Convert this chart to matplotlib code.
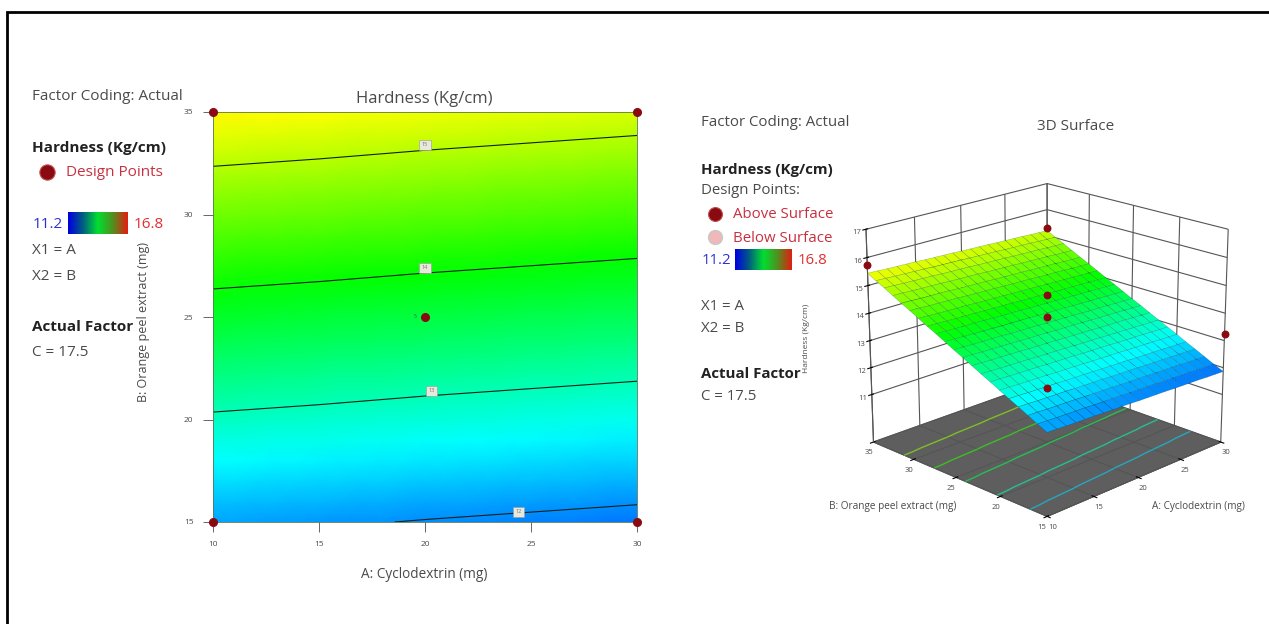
import numpy as np
import matplotlib
matplotlib.use("Agg")
import matplotlib.pyplot as plt
from matplotlib.colors import LinearSegmentedColormap, Normalize

plt.rcParams['font.family'] = ['Open Sans', 'DejaVu Sans']

# data
cyclodextrin = [10, 11, 12, 13, 14, 15, 16, 17, 18, 19, 20, 21, 22, 23, 24, 25, 26, 27, 28, 29, 30]
orange_peel = [15, 16, 17, 18, 19, 20, 21, 22, 23, 24, 25, 26, 27, 28, 29, 30, 31, 32, 33, 34, 35]
hardness = [
    [12.11,12.10,12.08,12.07,12.06,12.05,12.03,12.02,12.01,12.00,11.98,11.97,11.96,11.95,11.93,11.92,11.91,11.90,11.88,11.87,11.86],
    [12.27,12.26,12.24,12.23,12.22,12.21,12.19,12.18,12.17,12.16,12.14,12.13,12.12,12.11,12.09,12.08,12.07,12.06,12.04,12.03,12.02],
    [12.44,12.43,12.41,12.40,12.39,12.38,12.36,12.35,12.34,12.33,12.31,12.30,12.29,12.28,12.26,12.25,12.24,12.23,12.21,12.20,12.19],
    [12.61,12.60,12.58,12.57,12.56,12.55,12.53,12.52,12.51,12.50,12.48,12.47,12.46,12.45,12.43,12.42,12.41,12.40,12.38,12.37,12.36],
    [12.77,12.76,12.74,12.73,12.72,12.71,12.69,12.68,12.67,12.66,12.64,12.63,12.62,12.61,12.59,12.58,12.57,12.56,12.54,12.53,12.52],
    [12.94,12.93,12.91,12.90,12.89,12.88,12.86,12.85,12.84,12.83,12.81,12.80,12.79,12.78,12.76,12.75,12.74,12.73,12.71,12.70,12.69],
    [13.11,13.10,13.08,13.07,13.06,13.05,13.03,13.02,13.01,13.00,12.98,12.97,12.96,12.95,12.93,12.92,12.91,12.90,12.88,12.87,12.86],
    [13.27,13.26,13.24,13.23,13.22,13.21,13.19,13.18,13.17,13.16,13.14,13.13,13.12,13.11,13.09,13.08,13.07,13.06,13.04,13.03,13.02],
    [13.44,13.43,13.41,13.40,13.39,13.38,13.36,13.35,13.34,13.33,13.31,13.30,13.29,13.28,13.26,13.25,13.24,13.23,13.21,13.20,13.19],
    [13.61,13.60,13.58,13.57,13.56,13.55,13.53,13.52,13.51,13.50,13.48,13.47,13.46,13.45,13.43,13.42,13.41,13.40,13.38,13.37,13.36],
    [13.77,13.76,13.74,13.73,13.72,13.71,13.69,13.68,13.67,13.66,13.64,13.63,13.62,13.61,13.59,13.58,13.57,13.56,13.54,13.53,13.52],
    [13.94,13.93,13.91,13.90,13.89,13.88,13.86,13.85,13.84,13.83,13.81,13.80,13.79,13.78,13.76,13.75,13.74,13.73,13.71,13.70,13.69],
    [14.11,14.10,14.08,14.07,14.06,14.05,14.03,14.02,14.01,14.00,13.98,13.97,13.96,13.95,13.93,13.92,13.91,13.90,13.88,13.87,13.86],
    [14.27,14.26,14.24,14.23,14.22,14.21,14.19,14.18,14.17,14.16,14.14,14.13,14.12,14.11,14.09,14.08,14.07,14.06,14.04,14.03,14.02],
    [14.44,14.43,14.41,14.40,14.39,14.38,14.36,14.35,14.34,14.33,14.31,14.30,14.29,14.28,14.26,14.25,14.24,14.23,14.21,14.20,14.19],
    [14.61,14.60,14.58,14.57,14.56,14.55,14.53,14.52,14.51,14.50,14.48,14.47,14.46,14.45,14.43,14.42,14.41,14.40,14.38,14.37,14.36],
    [14.77,14.76,14.74,14.73,14.72,14.71,14.69,14.68,14.67,14.66,14.64,14.63,14.62,14.61,14.59,14.58,14.57,14.56,14.54,14.53,14.52],
    [14.94,14.93,14.91,14.90,14.89,14.88,14.86,14.85,14.84,14.83,14.81,14.80,14.79,14.78,14.76,14.75,14.74,14.73,14.71,14.70,14.69],
    [15.11,15.10,15.08,15.07,15.06,15.05,15.03,15.02,15.01,15.00,14.98,14.97,14.96,14.95,14.93,14.92,14.91,14.90,14.88,14.87,14.86],
    [15.27,15.26,15.24,15.23,15.22,15.21,15.19,15.18,15.17,15.16,15.14,15.13,15.12,15.11,15.09,15.08,15.07,15.06,15.04,15.03,15.02],
    [15.44,15.43,15.41,15.40,15.39,15.38,15.36,15.35,15.34,15.33,15.31,15.30,15.29,15.28,15.26,15.25,15.24,15.23,15.21,15.20,15.19],
]
contour_levels = [12, 13, 14, 15]
floor_levels = [12.4, 13.0, 13.6, 14.2, 14.8]
label_a = [24.4, 20.3, 20, 20]
label_b = [15.5, 21.4, 27.4, 33.4]
label_text = ["12", "13", "14", "15"]
design_a = [10, 30, 10, 30, 20]
design_b = [15, 15, 35, 35, 25]
points3d_a = [10, 30, 30, 10, 20, 20]
points3d_b = [35, 35, 15, 15, 25, 25]
points3d_z = [15.75, 15.3, 13.25, 13.6, 13.85, 14.65]
x_ticks = [10, 15, 20, 25, 30]
y_ticks = [15, 20, 25, 30, 35]
z_ticks = [11, 12, 13, 14, 15, 16, 17]

W, H = 1269, 624
Z = np.array(hardness)
A, B = np.meshgrid(cyclodextrin, orange_peel)
cmap = LinearSegmentedColormap.from_list("de", ["#0000ff", "#00ffff", "#00ff00", "#ffff00", "#ff0000"])
norm = Normalize(11.2, 16.8)
bar_cmap = LinearSegmentedColormap.from_list("bar", ["#0000e0", "#006080", "#00e030", "#509020", "#e02010"])
grey = "#4a4a4a"
dark_red = "#8a0a12"

fig = plt.figure(figsize=(W / 100, H / 100), dpi=100, facecolor="white")

# contour panel
ax = fig.add_axes([213 / W, 1 - 522 / H, (637 - 213) / W, (522 - 112) / H])
ax.pcolormesh(A, B, Z, cmap=cmap, norm=norm, shading="gouraud")
ax.contour(A[::5, ::5], B[::5, ::5], Z[::5, ::5], levels=contour_levels, colors="#102018", linewidths=0.8)
for a, b, t in zip(label_a, label_b, label_text):
    ax.text(a, b, t, fontsize=4, color="#777777", ha="center", va="center",
            bbox=dict(boxstyle="square,pad=0.45", fc="#e8e8dc", ec="#999999", lw=0.4))
ax.plot(design_a, design_b, "o", color=dark_red, ms=5.5, clip_on=False, zorder=5)
ax.text(19.55, 25, "5", fontsize=3.5, color=grey, ha="center", va="center")
ax.set_xlim(10, 30)
ax.set_ylim(15, 35)
ax.set_xticks(x_ticks)
ax.set_yticks(y_ticks)
ax.tick_params(labelsize=6, labelcolor=grey, color="#666666", length=7, width=0.7, pad=7)
for s in ax.spines.values():
    s.set_color("#557755")
    s.set_linewidth(0.6)

# surface panel
ax3 = fig.add_axes([739 / W, 1 - 646 / H, 600 / W, 600 / H], projection="3d")
ax3.patch.set_alpha(0)
ax3.computed_zorder = False
ax3.view_init(elev=19.5, azim=-135)
ax3.set_proj_type("persp", focal_length=0.55)
ax3.set_box_aspect((1, 1, 0.9), zoom=0.68)
floor = 9.2
ax3.set_xlim(10, 30)
ax3.set_ylim(15, 35)
ax3.set_zlim(floor, 17)
ax3.contour(A, B, Z, levels=floor_levels, zdir="z", offset=floor, cmap=cmap, norm=norm, linewidths=1.0, alpha=0.6, zorder=1)
ax3.plot_surface(A, B, Z, facecolors=cmap(norm(Z)), rstride=1, cstride=1, shade=False,
                 edgecolor=(0, 0.2, 0.2, 0.35), linewidth=0.35, zorder=2)
ax3.scatter(points3d_a, points3d_b, points3d_z, s=22, c=dark_red, depthshade=False, zorder=4)
ax3.set_xticks(x_ticks)
ax3.set_yticks(y_ticks)
ax3.set_zticks(z_ticks)
ax3.tick_params(labelsize=5.5, labelcolor=grey, pad=-2)
for axis in (ax3.xaxis, ax3.yaxis, ax3.zaxis):
    axis._axinfo["grid"].update(color="#555555", linewidth=0.8)
    axis.line.set_color("#555555")
ax3.xaxis.set_pane_color((1, 1, 1, 0))
ax3.yaxis.set_pane_color((1, 1, 1, 0))
ax3.zaxis.set_pane_color("#5e5e5e")

# overlay in pixels for the side text and frame
ov = fig.add_axes([0, 0, 1, 1], zorder=10)
ov.patch.set_alpha(0)
ov.axis("off")


def put(x, y, s, size=11, color=grey, **kw):
    kw.setdefault("va", "center")
    ov.text(x, y, s, fontsize=size, color=color, **kw)


ov.plot([7, 7, 1269], [624, 12, 12], color="black", lw=2, solid_joinstyle="miter")

put(32, 96, "Factor Coding: Actual")
put(32, 148, "Hardness (Kg/cm)", fontweight="bold", color="#222222")
ov.plot([47], [172], "o", color=dark_red, ms=11, mec="#c05050", mew=0.8)
put(66, 173, "Design Points", color="#c83040")
put(33, 224, "11.2", color="#3030d0")
ov.imshow(np.linspace(0, 1, 64).reshape(1, -1), extent=(68, 128, 234, 212), cmap=bar_cmap, aspect="auto")
put(134, 224, "16.8", color="#e03030")
put(32, 250, "X1 = A")
put(32, 276, "X2 = B")
put(32, 327, "Actual Factor", fontweight="bold", color="#222222")
put(32, 353, "C = 17.5")

put(424, 99, "Hardness (Kg/cm)", size=12, ha="center")
put(424, 575, "A: Cyclodextrin (mg)", size=9.8, ha="center")
put(143, 322, "B: Orange peel extract (mg)", size=9, ha="center", rotation=90)

put(701, 123, "Factor Coding: Actual", size=10.8)
put(701, 170, "Hardness (Kg/cm)", size=10.8, fontweight="bold", color="#222222")
put(701, 191, "Design Points:", size=10.8)
ov.plot([715], [214], "o", color=dark_red, ms=10, mec="#c05050", mew=0.8)
put(733, 215, "Above Surface", size=10.8, color="#c83040")
ov.plot([715], [237], "o", color="#f0b8b8", ms=10, mec="#c8c8c8", mew=1)
put(733, 238, "Below Surface", size=10.8, color="#c83040")
put(702, 260, "11.2", size=10.8, color="#3030d0")
ov.imshow(np.linspace(0, 1, 64).reshape(1, -1), extent=(735, 792, 270, 249), cmap=bar_cmap, aspect="auto")
put(798, 260, "16.8", size=10.8, color="#e03030")
put(701, 306, "X1 = A", size=10.8)
put(701, 329, "X2 = B", size=10.8)
put(701, 374, "Actual Factor", size=10.8, fontweight="bold", color="#222222")
put(701, 397, "C = 17.5", size=10.8)
put(1076, 127, "3D Surface", size=11, ha="center")
put(806, 338, "Hardness (Kg/cm)", size=6, ha="center", rotation=90)
put(893, 507, "B: Orange peel extract (mg)", size=7.2, ha="center")
put(1198, 507, "A: Cyclodextrin (mg)", size=7.2, ha="center")
ov.set_xlim(0, W)
ov.set_ylim(H, 0)

fig.savefig("out.png", dpi=100)
